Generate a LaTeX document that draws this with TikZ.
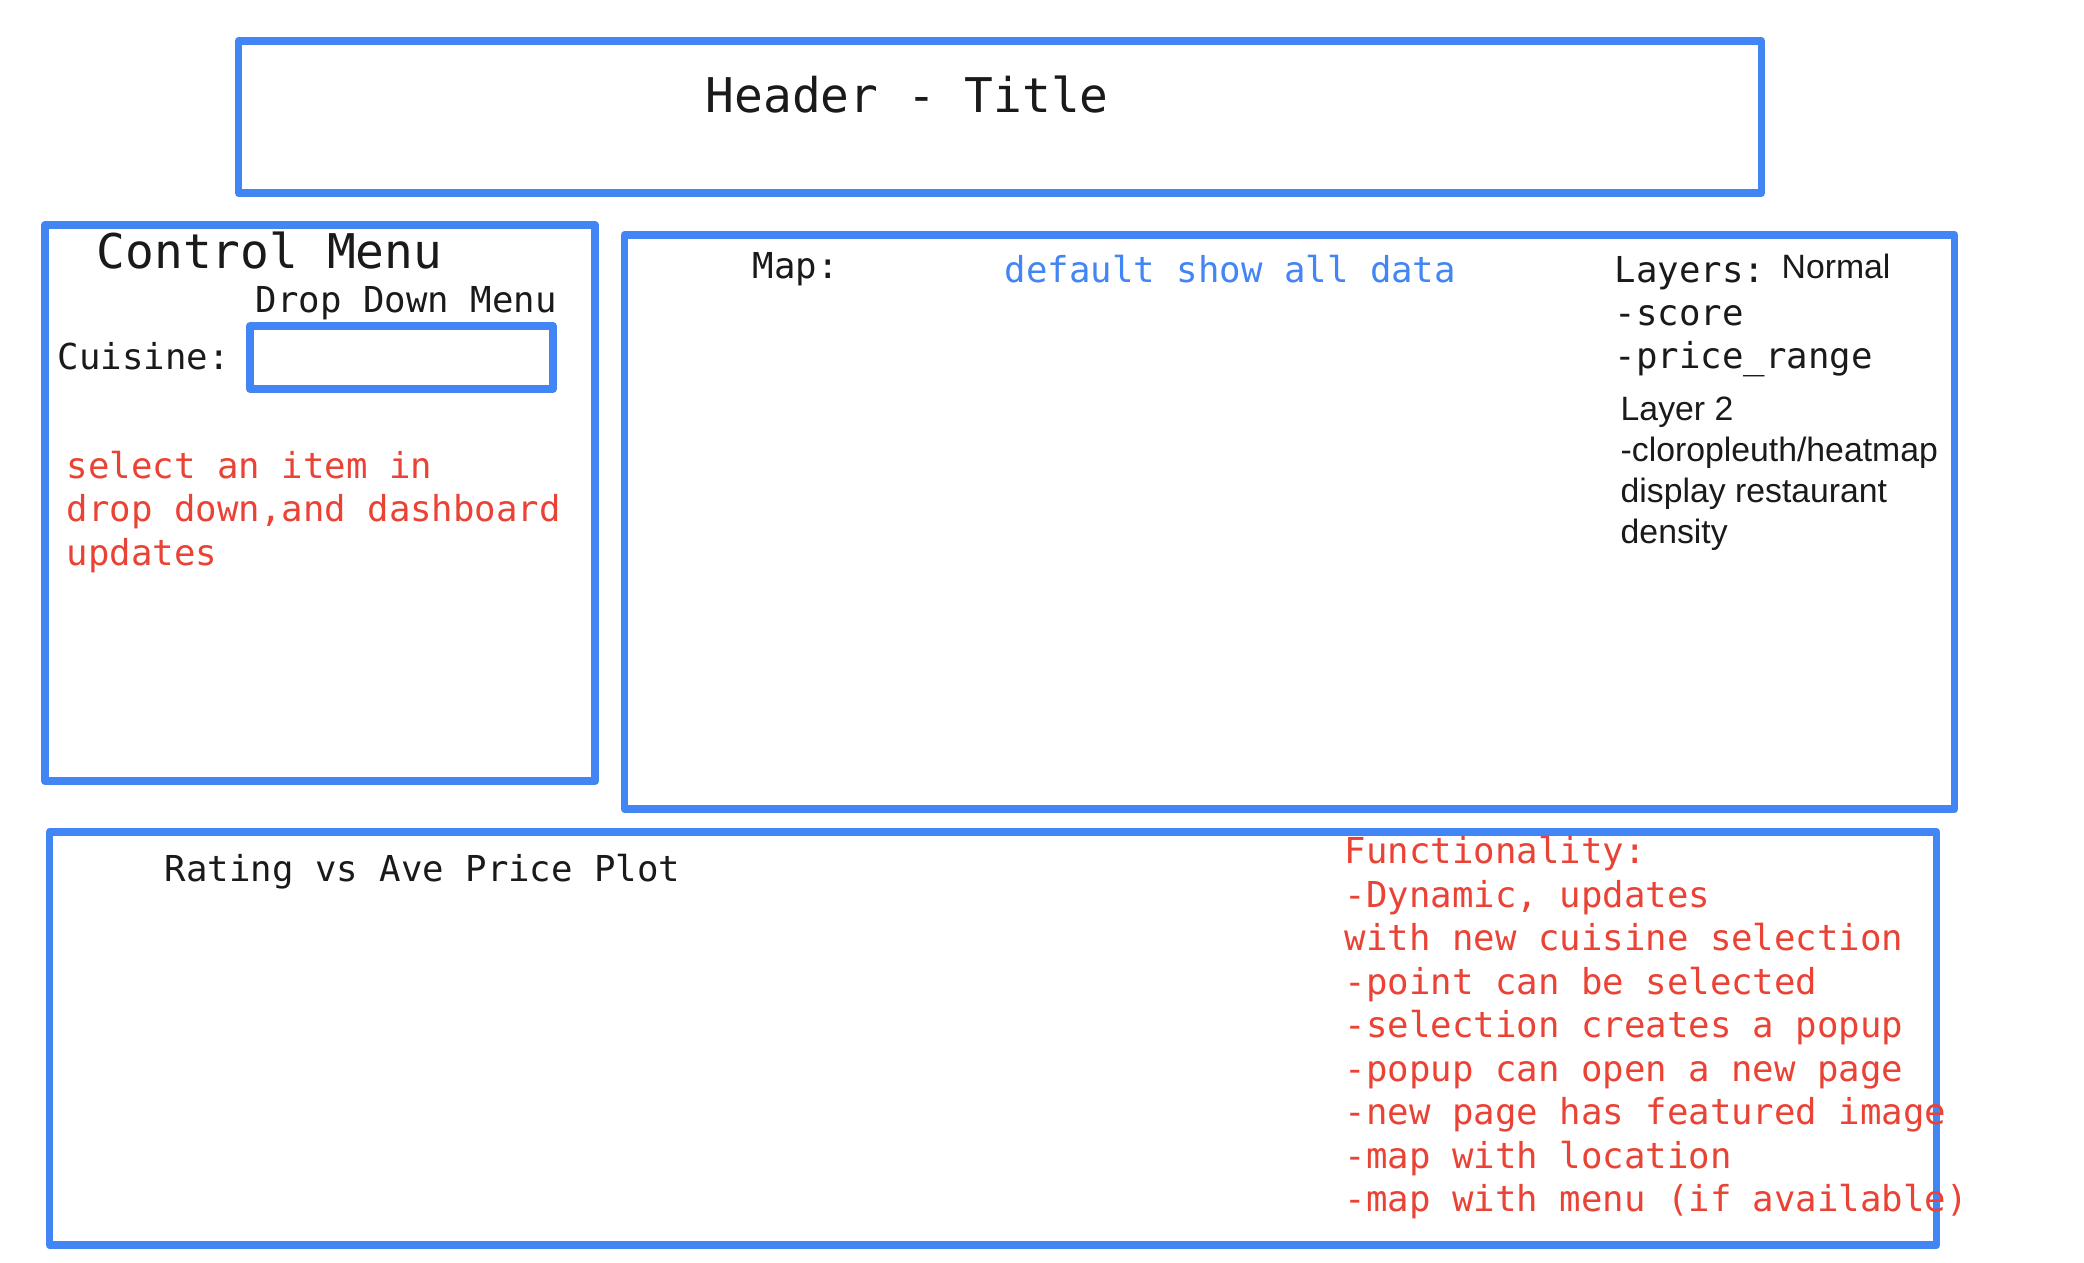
\documentclass[tikz,border=0pt]{standalone}
\usepackage{fontspec}
\setmainfont{Liberation Sans}
\setmonofont{DejaVu Sans Mono}
\definecolor{gblue}{HTML}{4285F4}
\definecolor{gred}{HTML}{EA4335}
\definecolor{ink}{HTML}{1A1A1A}
\begin{document}
\begin{tikzpicture}[x=0.01cm,y=-0.01cm,
  box/.style={draw=gblue, line width=0.075cm, line join=round, inner sep=0pt},
  mono/.style={font=\ttfamily\fontsize{10.15}{12.4}\selectfont, text=ink, inner sep=0pt, anchor=base west},
  bigmono/.style={font=\ttfamily\fontsize{13.6}{16}\selectfont, text=ink, inner sep=0pt, anchor=base west},
  sans/.style={font=\fontsize{9.6}{11.5}\selectfont, text=ink, inner sep=0pt, anchor=base west},
  redtxt/.style={mono, text=gred},
  bluetxt/.style={mono, text=gblue}]
\useasboundingbox (0,0) rectangle (2084,1262);
\fill[white] (0,0) rectangle (2084,1262);

% boxes
\node (header) [box, minimum width=15.22cm, minimum height=1.52cm] at (1000,117) {};
\node (control) [box, minimum width=5.50cm, minimum height=5.56cm] at (320,503) {};
\node (dropdown) [box, minimum width=3.03cm, minimum height=0.63cm] at (401.5,357.5) {};
\node (map) [box, minimum width=13.29cm, minimum height=5.74cm] at (1289.5,522) {};
\node (plot) [box, minimum width=18.86cm, minimum height=4.13cm] at (993,1038.5) {};

% header
\node (title) [bigmono] at (705,112) {Header - Title};

% control menu
\node (ctitle) [bigmono] at (96,268) {Control Menu};
\node (ddlabel) [mono] at (255,312) {Drop Down Menu};
\node (cuisine) [mono] at (57,369) {Cuisine:};
\node (sel1) [redtxt] at (66,478) {select an item in};
\node (sel2) [redtxt] at (66,521.5) {drop down,and dashboard};
\node (sel3) [redtxt] at (66,565) {updates};

% map
\node (maplabel) [mono] at (752,278.5) {Map:};
\node (default) [bluetxt] at (1004,282.5) {default show all data};
\node (layers) [mono] at (1614,282.5) {Layers:};
\node (normal) [sans] at (1781,278) {Normal};
\node (score) [mono] at (1614,325.5) {-score};
\node (price) [mono] at (1614,368.5) {-price\_range};
\node (layer2) [sans] at (1620,420) {Layer 2};
\node (chloro) [sans] at (1620,461) {-cloropleuth/heatmap};
\node (display) [sans] at (1620,502) {display restaurant};
\node (density) [sans] at (1620,543.5) {density};

% plot
\node (plotlabel) [mono] at (164,881.5) {Rating vs Ave Price Plot};
\node (f1) [redtxt] at (1344,863.5) {Functionality:};
\node (f2) [redtxt] at (1344,907) {-Dynamic, updates};
\node (f3) [redtxt] at (1344,950.5) {with new cuisine selection};
\node (f4) [redtxt] at (1344,994) {-point can be selected};
\node (f5) [redtxt] at (1344,1037.5) {-selection creates a popup};
\node (f6) [redtxt] at (1344,1081) {-popup can open a new page};
\node (f7) [redtxt] at (1344,1124.5) {-new page has featured image};
\node (f8) [redtxt] at (1344,1168) {-map with location};
\node (f9) [redtxt] at (1344,1211.5) {-map with menu (if available)};
\end{tikzpicture}
\end{document}
